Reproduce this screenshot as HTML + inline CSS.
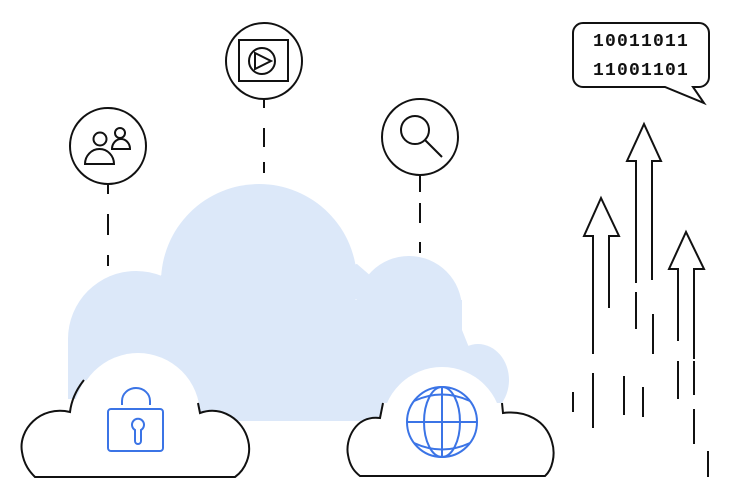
<!DOCTYPE html>
<html><head><meta charset="utf-8"><style>html,body{margin:0;padding:0;background:#fff}svg{display:block}</style></head>
<body>
<svg width="730" height="500" viewBox="0 0 730 500" xmlns="http://www.w3.org/2000/svg">
<g fill="#dce8f9">
<circle cx="259" cy="282" r="98"/>
<circle cx="136" cy="339" r="68"/>
<circle cx="409" cy="309" r="53"/>
<ellipse cx="478" cy="380" rx="31" ry="36"/>
<rect x="100" y="300" width="362" height="121"/>
<rect x="440" y="350" width="40" height="71"/>
<rect x="68" y="339" width="100" height="60"/>
<polygon points="259,282 357,264 409,309"/>
<polygon points="136,339 161,275 259,282"/>
<polygon points="409,340 462,330 470,350 440,360"/>
</g>
<g fill="#fff">
<circle cx="138" cy="415" r="62"/>
<path d="M70,412 C40,405 18,430 22,452 C24,465 30,472 35,477 L235,477 C245,470 252,455 248,440 C243,420 222,405 200,413 L198,403 L84,380 Z"/>
<circle cx="442" cy="427" r="60"/>
<path d="M380,418 C355,415 345,440 348,455 C350,467 355,472 360,476 L545,476 C552,470 556,455 552,442 C546,420 525,410 503,413 L502,403 L383,403 Z"/>
</g>
<g fill="none" stroke="#111" stroke-width="2">
<path d="M84,380 Q72,395 70,412 C40,405 18,430 22,452 C24,465 30,472 35,477 L235,477 C245,470 252,455 248,440 C243,420 222,405 200,413 L198,403"/>
<path d="M383,403 L380,418 C355,415 345,440 348,455 C350,467 355,472 360,476 L545,476 C552,470 556,455 552,442 C546,420 525,410 503,413 L502,403"/>
</g>
<g fill="none" stroke="#3b74e6" stroke-width="2">
<rect x="108" y="409" width="55" height="42" rx="3"/>
<path d="M122,405 V401 A14,13 0 0 1 150,401 V405"/>
<path d="M135,430 A6,6 0 1 1 141,430 V441 A3,3 0 0 1 135,441 Z"/>
<circle cx="442" cy="422" r="35"/>
<ellipse cx="442" cy="422" rx="18" ry="35"/>
<line x1="442" y1="387" x2="442" y2="457"/>
<line x1="407" y1="422" x2="477" y2="422"/>
<path d="M414,401 Q442,388 470,401"/>
<path d="M414,443 Q442,456 470,443"/>
</g>
<g fill="none" stroke="#111" stroke-width="2">
<circle cx="108" cy="146" r="38" fill="#fff"/>
<circle cx="100" cy="139" r="6.5"/>
<path d="M85,164 A14.5,15 0 0 1 114,164 Z"/>
<circle cx="120" cy="133" r="5"/>
<path d="M112,149 A9,10 0 0 1 130,149 Z"/>
<circle cx="264" cy="61" r="38" fill="#fff"/>
<rect x="239" y="40" width="49" height="41"/>
<circle cx="262" cy="61" r="13"/>
<path d="M255,53 L271,61 L255,69 Z"/>
<circle cx="420" cy="137" r="38" fill="#fff"/>
<circle cx="415" cy="130" r="14"/>
<line x1="425" y1="140" x2="442" y2="157"/>
<path d="M108,184 V194 M108,214 V235 M108,255 V266"/>
<path d="M264,99 V108 M264,128 V147 M264,162 V173"/>
<path d="M420,175 V192 M420,203 V223 M420,242 V253"/>
<path d="M593,354 V236 H584 L601,198 L619,236 H609 V308"/>
<path d="M636,283 V161 H627 L644,124 L661,161 H652 V280"/>
<path d="M678,341 V269 H669 L686,232 L704,269 H694 V359"/>
<path d="M573,392 V412 M593,373 V428 M624,376 V415 M643,387 V417 M636,292 V329 M653,314 V354 M678,361 V399 M694,361 V395 M694,409 V444 M708,451 V477"/>
<path d="M583,23 H699 A10,10 0 0 1 709,33 V77 A10,10 0 0 1 699,87 H693 L704,103 L665,87 H583 A10,10 0 0 1 573,77 V33 A10,10 0 0 1 583,23 Z" fill="#fff"/>
</g>
<g font-family="Liberation Mono, monospace" font-size="18" font-weight="bold" fill="#111" text-anchor="middle" letter-spacing="1.2">
<text x="641" y="46">10011011</text>
<text x="641" y="75">11001101</text>
</g>
</svg>
</body></html>
